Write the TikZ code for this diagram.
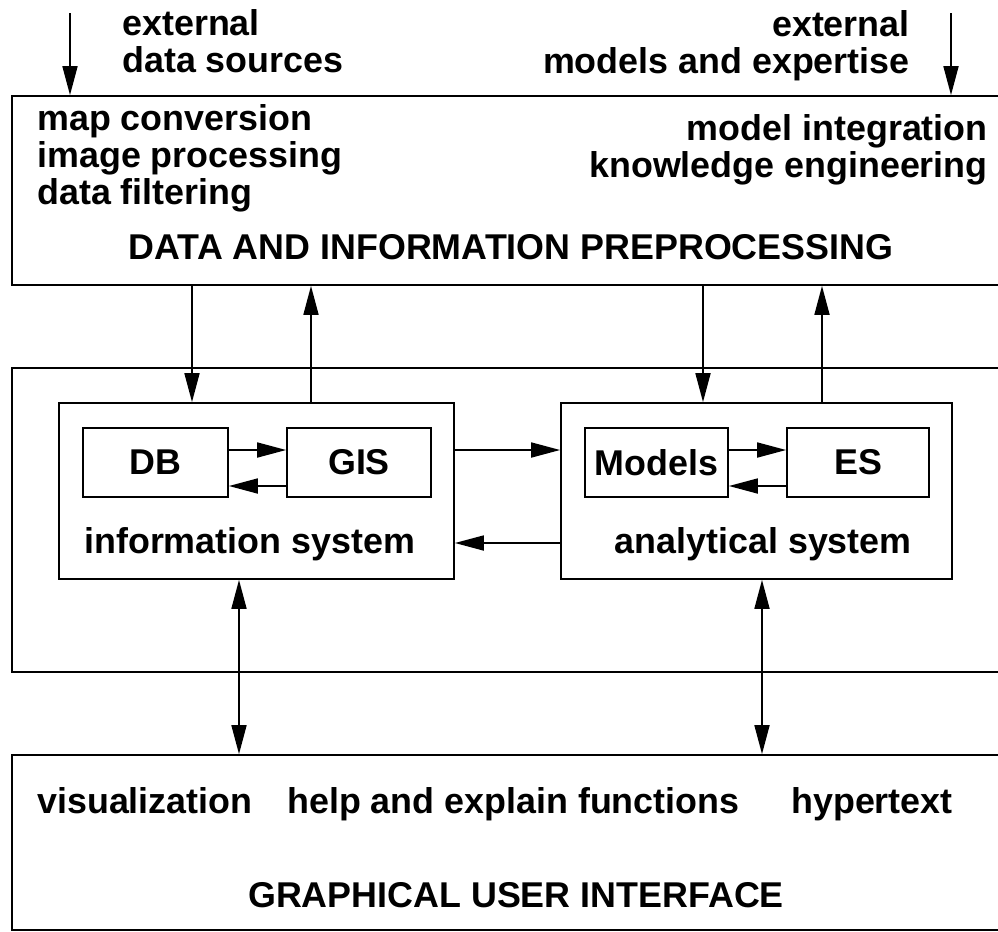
\documentclass[tikz,border=0pt]{standalone}
\usepackage{fontspec}
\setmainfont{Liberation Sans}
\usetikzlibrary{arrows.meta, fit}

\tikzset{
  box/.style = {draw, line width=1pt, inner sep=0pt},
  lbl/.style = {font=\fontsize{20.4}{21}\selectfont\bfseries, inner sep=0pt},
  arr/.style = {-{Triangle[length=0.58cm, width=0.3cm]}, line width=1pt},
  darr/.style = {{Triangle[length=0.58cm, width=0.3cm]}-{Triangle[length=0.58cm, width=0.3cm]}, line width=1pt}
}

\begin{document}
\begin{tikzpicture}[x=0.02cm, y=-0.02cm]
    \clip (0,0) rectangle (998,931);
    % layers
    \node[box, fit={(12,96) (1010,285)}] (prep) {};
    \node[box, fit={(12,368) (1010,672)}] (core) {};
    \node[box, fit={(12,755) (1010,930)}] (gui) {};
    % systems
    \node[box, fit={(59,403) (454,579)}] (info) {};
    \node[box, fit={(561,403) (952,579)}] (anal) {};
    \node[box, fit={(83,428) (228,497)}] (db) {};
    \node[box, fit={(287,428) (431,497)}] (gis) {};
    \node[box, fit={(585,428) (728,497)}] (models) {};
    \node[box, fit={(787,428) (929,497)}] (es) {};
    \node[lbl] (dbT) at (db) {DB};
    \node[lbl] (gisT) at (gis) {GIS};
    \node[lbl] (modelsT) at (models) {Models};
    \node[lbl] (esT) at (es) {ES};
    % texts (base = last line)
    \node[lbl, align=left, anchor=base west] (extL) at (122,72) {external\\data sources};
    \node[lbl, align=right, anchor=base east] (extR) at (910,73) {external\\models and expertise};
    \node[lbl, align=left, anchor=base west] (prepL) at (37,204) {map conversion\\image processing\\data filtering};
    \node[lbl, align=right, anchor=base east] (prepR) at (988,177) {model integration\\knowledge engineering};
    \node[lbl, anchor=base] (prepT) at (511,259) {DATA AND INFORMATION PREPROCESSING};
    \node[lbl, anchor=base west] (infoT) at (84,553) {information system};
    \node[lbl, anchor=base east] (analT) at (912,553) {analytical system};
    \node[lbl, anchor=base west] (vis) at (37,813) {visualization};
    \node[lbl, anchor=base west] (help) at (287,813) {help and explain functions};
    \node[lbl, anchor=base east] (hyper) at (953,813) {hypertext};
    \node[lbl, anchor=base] (guiT) at (516,907) {GRAPHICAL USER INTERFACE};
    % x positions of the vertical arrows
    \coordinate (srcL) at (70,13);
    \coordinate (srcR) at (951,13);
    \coordinate (x1) at (192,0);
    \coordinate (x2) at (311,0);
    \coordinate (x3) at (703,0);
    \coordinate (x4) at (822,0);
    \coordinate (x5) at (239,0);
    \coordinate (x6) at (762,0);
    % y positions of the horizontal arrows
    \coordinate (y1) at (0,450);
    \coordinate (y2) at (0,486);
    \coordinate (y3) at (0,543);
    % arrows
    \draw[arr] (srcL) -- (prep.north -| srcL);
    \draw[arr] (srcR) -- (prep.north -| srcR);
    \draw[arr] (prep.south -| x1) -- (info.north -| x1);
    \draw[arr] (info.north -| x2) -- (prep.south -| x2);
    \draw[arr] (prep.south -| x3) -- (anal.north -| x3);
    \draw[arr] (anal.north -| x4) -- (prep.south -| x4);
    \draw[arr] (db.east |- y1) -- (gis.west |- y1);
    \draw[arr] (gis.west |- y2) -- (db.east |- y2);
    \draw[arr] (models.east |- y1) -- (es.west |- y1);
    \draw[arr] (es.west |- y2) -- (models.east |- y2);
    \draw[arr] (info.east |- y1) -- (anal.west |- y1);
    \draw[arr] (anal.west |- y3) -- (info.east |- y3);
    \draw[darr] (info.south -| x5) -- (gui.north -| x5);
    \draw[darr] (anal.south -| x6) -- (gui.north -| x6);
\end{tikzpicture}
\end{document}
